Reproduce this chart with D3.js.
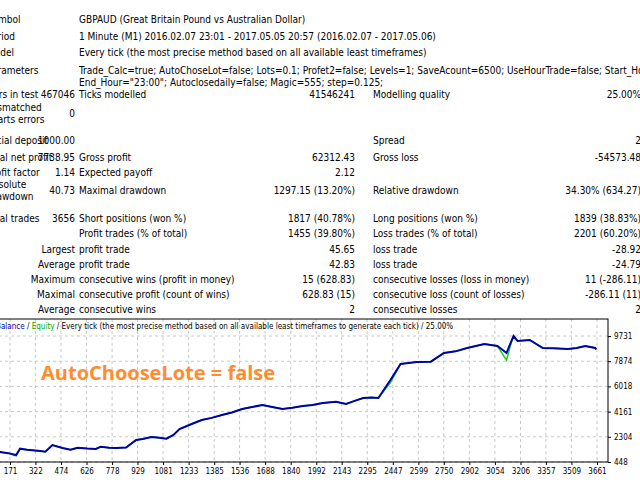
<!DOCTYPE html>
<html><head><meta charset="utf-8">
<script src="https://cdn.jsdelivr.net/npm/d3@7"></script>
<style>body{margin:0;background:#fff}svg{display:block}</style>
</head><body>
<svg id="c" width="640" height="480"></svg>
<script>
const trades=[0,111,160,207,231,273,351,381,423,483,531,573,630,681,711,760,801,861,921,960,1011,1060,1101,1143,1179,1251,1311,1370,1431,1490,1551,1610,1671,1730,1791,1850,1911,1970,2031,2109,2169,2220,2271,2320,2361,2433,2493,2540,2589,2673,2751,2820,2889,2991,3069,3123,3150,3165,3189,3261,3339,3400,3489,3540,3591,3651,3656];
const balance=[1000,1185,1100,964,1428,1354,1258,1207,1700,1480,1354,1500,1440,1406,1575,1490,1480,1510,2068,2150,2290,2230,2164,2437,2880,3247,3542,3700,3910,4100,4353,4500,4647,4500,4353,4450,4573,4650,4795,4890,4720,4950,5163,5200,5163,6489,7668,7750,7815,7838,8478,8600,8846,9141,8993,8478,9300,9731,9362,9436,8846,8820,8772,8850,8993,8846,8739];
const equity=[1000,1185,1100,900,1428,1354,1258,1207,1700,1480,1354,1500,1440,1406,1575,1490,1480,1510,2068,2150,2290,2230,2164,2437,2880,3247,3542,3700,3910,4100,4353,4500,4647,4500,4353,4450,4573,4650,4795,4890,4720,4950,5163,5200,5163,6300,7668,7750,7815,7838,8478,8600,8846,9141,8993,7950,9200,9731,9362,9436,8846,8820,8772,8850,8993,8846,8739];
const xTicks=[171,322,474,626,778,929,1081,1233,1385,1536,1688,1840,1992,2143,2295,2447,2599,2750,2902,3054,3206,3357,3509,3661];
const yTicks=[448,2304,4161,6018,7874,9731];
const rows=[
 {y:23,c:[["Symbol",-13,"start"],["GBPAUD (Great Britain Pound vs Australian Dollar)",79,"start"]]},
 {y:40,c:[["Period",-13,"start"],["1 Minute (M1) 2016.02.07 23:01 - 2017.05.05 20:57 (2016.02.07 - 2017.05.06)",79,"start"]]},
 {y:56,c:[["Model",-13,"start"],["Every tick (the most precise method based on all available least timeframes)",79,"start"]]},
 {y:74,c:[["Parameters",-13,"start"],['Trade_Calc=true; AutoChoseLot=false; Lots=0.1; Profet2=false; Levels=1; SaveAcount=6500; UseHourTrade=false; Start_Hour="00:00";',79,"start"]]},
 {y:86,c:[['End_Hour="23:00"; Autoclosedaily=false; Magic=555; step=0.125;',79,"start"]]},
 {y:98,c:[["Bars in test",-13,"start"],["467046",75,"end"],["Ticks modelled",79,"start"],["41546241",355,"end"],["Modelling quality",373,"start"],["25.00%",641,"end"]]},
 {y:111,c:[["Mismatched",-13,"start"]]},
 {y:123,c:[["charts errors",-13,"start"]]},
 {y:117,c:[["0",75,"end"]]},
 {y:144,c:[["Initial deposit",-13,"start"],["1000.00",75,"end"],["Spread",373,"start"],["2",641,"end"]]},
 {y:161,c:[["Total net profit",-13,"start"],["7738.95",75,"end"],["Gross profit",79,"start"],["62312.43",355,"end"],["Gross loss",373,"start"],["-54573.48",641,"end"]]},
 {y:176,c:[["Profit factor",-13,"start"],["1.14",75,"end"],["Expected payoff",79,"start"],["2.12",355,"end"]]},
 {y:188,c:[["Absolute",-13,"start"]]},
 {y:200,c:[["drawdown",-13,"start"]]},
 {y:194,c:[["40.73",75,"end"],["Maximal drawdown",79,"start"],["1297.15 (13.20%)",355,"end"],["Relative drawdown",373,"start"],["34.30% (634.27)",641,"end"]]},
 {y:222,c:[["Total trades",-13,"start"],["3656",75,"end"],["Short positions (won %)",79,"start"],["1817 (40.78%)",355,"end"],["Long positions (won %)",373,"start"],["1839 (38.83%)",641,"end"]]},
 {y:237,c:[["Profit trades (% of total)",79,"start"],["1455 (39.80%)",355,"end"],["Loss trades (% of total)",373,"start"],["2201 (60.20%)",641,"end"]]},
 {y:253,c:[["Largest",75,"end"],["profit trade",79,"start"],["45.65",355,"end"],["loss trade",373,"start"],["-28.92",641,"end"]]},
 {y:268,c:[["Average",75,"end"],["profit trade",79,"start"],["42.83",355,"end"],["loss trade",373,"start"],["-24.79",641,"end"]]},
 {y:283,c:[["Maximum",75,"end"],["consecutive wins (profit in money)",79,"start"],["15 (628.83)",355,"end"],["consecutive losses (loss in money)",373,"start"],["11 (-286.11)",641,"end"]]},
 {y:298,c:[["Maximal",75,"end"],["consecutive profit (count of wins)",79,"start"],["628.83 (15)",355,"end"],["consecutive loss (count of losses)",373,"start"],["-286.11 (11)",641,"end"]]},
 {y:313,c:[["Average",75,"end"],["consecutive wins",79,"start"],["2",355,"end"],["consecutive losses",373,"start"],["2",641,"end"]]}
];
(function(){
const svg=d3.select("#c");
const F="'DejaVu Sans Condensed','DejaVu Sans',sans-serif";
rows.forEach(r=>r.c.forEach(([t,x,a])=>svg.append("text").attr("x",x).attr("y",r.y).attr("text-anchor",a).attr("font-family",F).attr("font-size",10).attr("fill","#000").text(t)));

const topY=319,bottom=462,right=608;
const x=d3.scaleLinear().domain([171,3661]).range([10,597]);
const y=d3.scaleLinear().domain([448,9731]).range([462,336]);
const g=svg.append("g");
xTicks.forEach(t=>g.append("line").attr("x1",x(t)).attr("x2",x(t)).attr("y1",topY).attr("y2",bottom).attr("stroke","#c8c8c8").attr("stroke-dasharray","3,3"));
yTicks.forEach(t=>g.append("line").attr("x1",-1).attr("x2",right).attr("y1",y(t)).attr("y2",y(t)).attr("stroke","#c8c8c8").attr("stroke-dasharray","3,3"));
g.append("rect").attr("x",-2).attr("y",topY).attr("width",right+2).attr("height",bottom-topY).attr("fill","none").attr("stroke","#000");
const line=d3.line().x((d,i)=>x(trades[i])).y(d=>y(d));
g.append("path").attr("d",line(equity)).attr("fill","none").attr("stroke","#22cc22").attr("stroke-width",1.5);
g.append("path").attr("d",line(balance)).attr("fill","none").attr("stroke","#0000aa").attr("stroke-width",2);
const ax=svg.append("g").attr("transform",`translate(0,${bottom})`).call(d3.axisBottom(x).tickValues(xTicks).tickSize(3).tickFormat(d3.format("d")));
const ay=svg.append("g").attr("transform",`translate(${right},0)`).call(d3.axisRight(y).tickValues(yTicks).tickSize(3).tickFormat(d3.format("d")));
[ax,ay].forEach(a=>{a.select(".domain").remove();a.selectAll("text").attr("font-family",F).attr("font-size",8).attr("fill","#000");});
const tt=svg.append("text").attr("x",-4).attr("y",329).attr("font-family",F).attr("font-size",8);
tt.append("tspan").attr("fill","#0000aa").text("Balance");
tt.append("tspan").attr("fill","#000").text(" / ");
tt.append("tspan").attr("fill","#00aa00").text("Equity");
tt.append("tspan").attr("fill","#000").text(" / Every tick (the most precise method based on all available least timeframes to generate each tick) / 25.00%");
svg.append("text").attr("x",41).attr("y",380).attr("font-family","'Open Sans',sans-serif").attr("font-weight","bold").attr("font-size",20).attr("fill","#ff8c2e").text("AutoChooseLote = false");
})();
</script>
</body></html>
